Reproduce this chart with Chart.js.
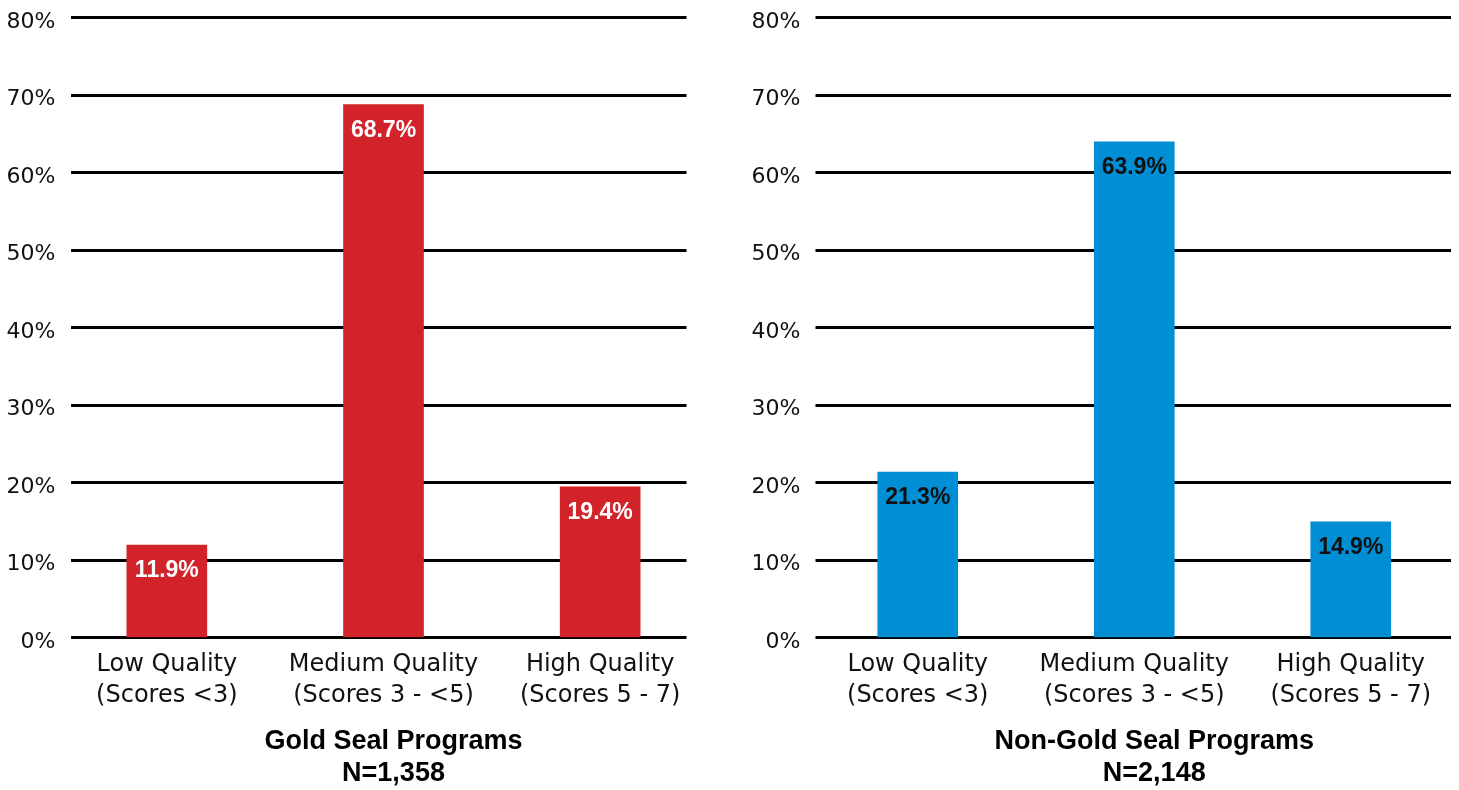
<!DOCTYPE html>
<html>
<head>
<meta charset="utf-8">
<script src="https://cdn.jsdelivr.net/npm/chart.js@4/dist/chart.umd.min.js"></script>
<style>
  html, body { margin: 0; padding: 0; background: #fff; overflow: hidden; }
  .chart-box { position: absolute; top: 0; }
</style>
</head>
<body>
<div class="chart-box" style="left:0px"><canvas id="goldChart" width="730" height="790"></canvas></div>
<div class="chart-box" style="left:730px"><canvas id="nonGoldChart" width="729" height="790"></canvas></div>
<script>
// data
const categories = [
  ["Low Quality", "(Scores <3)"],
  ["Medium Quality", "(Scores 3 - <5)"],
  ["High Quality", "(Scores 5 - 7)"],
];
const goldSealValues = [11.9, 68.7, 19.4];
const nonGoldSealValues = [21.3, 63.9, 14.9];
const yTickMax = 80;
const yTickStep = 10;
const goldSealTitle = ["Gold Seal Programs", "N=1,358"];
const nonGoldSealTitle = ["Non-Gold Seal Programs", "N=2,148"];

const LABEL_FONT = "'DejaVu Sans', sans-serif";
const BOLD_FONT = "'Liberation Sans', Arial, sans-serif";

// horizontal rules, drawn from the y scale but with their own left/right inset
const gridPlugin = {
  id: "gridRules",
  beforeDatasetsDraw(chart, args, opts) {
    const { ctx, chartArea } = chart;
    const y = chart.scales.y;
    ctx.save();
    ctx.strokeStyle = "#000";
    ctx.lineWidth = 3;
    y.ticks.forEach((t) => {
      const py = Math.round(y.getPixelForValue(t.value)) + 0.5;
      ctx.beginPath();
      ctx.moveTo(chartArea.left + opts.insetLeft, py);
      ctx.lineTo(chartArea.right - opts.insetRight, py);
      ctx.stroke();
    });
    ctx.restore();
  },
};

// value text inside the top of each bar
const barLabelPlugin = {
  id: "barLabels",
  afterDatasetsDraw(chart, args, opts) {
    const { ctx } = chart;
    const meta = chart.getDatasetMeta(0);
    const data = chart.data.datasets[0].data;
    ctx.save();
    ctx.font = "bold 23px " + BOLD_FONT;
    ctx.fillStyle = opts.color;
    ctx.textAlign = "center";
    ctx.textBaseline = "middle";
    meta.data.forEach((bar, i) => {
      ctx.fillText(data[i].toFixed(1) + "%", bar.x, bar.y + 26);
    });
    ctx.restore();
  },
};

// two-line bold caption under the axis
const captionPlugin = {
  id: "caption",
  afterDraw(chart, args, opts) {
    const { ctx, chartArea } = chart;
    const cx = (chartArea.left + chartArea.right) / 2 + opts.shift;
    ctx.save();
    ctx.font = "bold 27px " + BOLD_FONT;
    ctx.fillStyle = "#000";
    ctx.textAlign = "center";
    ctx.textBaseline = "middle";
    opts.lines.forEach((line, i) => {
      ctx.fillText(line, cx, chartArea.bottom + 104 + i * 32);
    });
    ctx.restore();
  },
};

function noPadding(scale) {
  scale.paddingTop = 0;
  scale.paddingBottom = 0;
  scale.paddingLeft = 0;
  scale.paddingRight = 0;
}

function makeChart(canvasId, values, barColor, textColor, title, layout) {
  const ctx = document.getElementById(canvasId).getContext("2d");
  return new Chart(ctx, {
    type: "bar",
    data: {
      labels: categories,
      datasets: [{
        data: values,
        backgroundColor: barColor,
        barThickness: 80,
      }],
    },
    options: {
      responsive: false,
      animation: false,
      layout: { padding: { top: 17, right: layout.padRight, bottom: 0, left: 0 } },
      plugins: {
        legend: { display: false },
        tooltip: { enabled: false },
        gridRules: { insetLeft: layout.gridLeft, insetRight: layout.gridRight },
        barLabels: { color: textColor },
        caption: { lines: title, shift: layout.captionShift },
      },
      scales: {
        x: {
          grid: { display: false, drawTicks: false, tickLength: 0 },
          border: { display: false },
          ticks: {
            color: "#111",
            padding: 12,
            maxRotation: 0,
            autoSkip: false,
            font: { family: LABEL_FONT, size: 24, lineHeight: 1.3 },
          },
          afterFit: (scale) => { scale.height = 152.7; noPadding(scale); },
        },
        y: {
          min: 0,
          max: yTickMax,
          grid: { display: false, drawTicks: false, tickLength: 0 },
          border: { display: false },
          ticks: {
            stepSize: yTickStep,
            color: "#111",
            padding: layout.tickPad,
            labelOffset: 5,
            font: { family: LABEL_FONT, size: 22 },
            callback: (v) => v + "%",
          },
          afterFit: (scale) => { scale.width = layout.axisWidth; noPadding(scale); },
        },
      },
    },
    plugins: [gridPlugin, barLabelPlugin, captionPlugin],
  });
}

makeChart("goldChart", goldSealValues, "#D2232A", "#fff", goldSealTitle,
  { axisWidth: 58.5, tickPad: 3, padRight: 21.5, gridLeft: 12.5, gridRight: 22, captionShift: 10 });
makeChart("nonGoldChart", nonGoldSealValues, "#008FD5", "#111", nonGoldSealTitle,
  { axisWidth: 79.5, tickPad: 9, padRight: 0, gridLeft: 6, gridRight: 8, captionShift: 20 });
</script>
</body>
</html>
